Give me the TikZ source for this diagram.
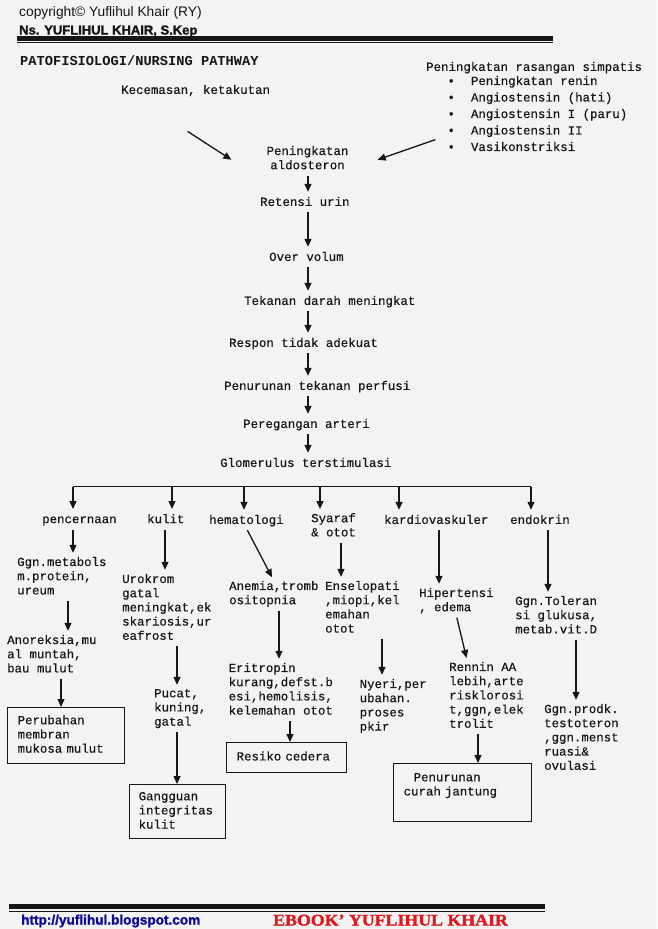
\documentclass[tikz,border=0pt]{standalone}
\usepackage{fontspec}
\usetikzlibrary{arrows.meta}
\setmainfont{Liberation Sans}
\newfontfamily\monof[FakeBold=0.4]{Liberation Mono}
\newfontfamily\monobf{Liberation Mono Bold}
\newfontfamily\heavyf{Liberation Sans}[BoldFeatures={FakeBold=1.6}]
\newfontfamily\ebookf{Liberation Serif}[BoldFeatures={FakeBold=1.8}, FakeStretch=1.1]
\newcommand{\lnstr}{\rule[-4.3pt]{0pt}{14.2pt}}
\newcommand{\bul}{\makebox[23.5pt][l]{\textbullet}}
\definecolor{paper}{RGB}{243,243,243}
\definecolor{ink}{RGB}{22,22,22}
\definecolor{ebookred}{RGB}{222,24,30}
\definecolor{linkblue}{RGB}{12,12,150}
\begin{document}
\begin{tikzpicture}[x=1pt,y=-1pt]
    \tikzset{
        txt/.style={font=\monof\fontsize{12.4}{14.2}\selectfont, text=ink, inner sep=0pt, align=left, anchor=north west,
            execute at begin node=\lnstr, execute at end node=\lnstr},
        mid/.style={txt, align=center, anchor=north},
        outcome/.style={txt, draw=ink, line width=1.3pt, inner ysep=0pt},
        arr/.style={-{Triangle[length=8pt,width=7pt]}, line width=1.3pt, draw=ink},
        link/.style={arr, shorten <=2pt, shorten >=4pt}
    }
    \fill[paper] (0,0) rectangle (657,929);
    \useasboundingbox (0,0) rectangle (657,929);

    \node[font=\fontsize{13.8}{16}\selectfont, text=ink, anchor=base west, inner sep=0pt] (copy) at (19,16) {copyright© Yuflihul Khair (RY)};
    \node[font=\heavyf\bfseries\fontsize{13}{15}\selectfont, text=ink, anchor=base west, inner sep=0pt] (author) at (19,34.5) {Ns. YUFLIHUL KHAIR, S.Kep};
    \draw[ink, line width=4.5pt] (17,38.3) -- (553,38.3);
    \draw[ink, line width=1pt] (17,42.6) -- (553,42.6);
    \node[font=\monobf\fontsize{13.7}{16}\selectfont, text=ink, anchor=base west, inner sep=0pt] (title) at (20,65) {PATOFISIOLOGI/NURSING PATHWAY};

    \node[txt] (kec) at (121,83.8) {Kecemasan, ketakutan};
    \node[txt] (simp) at (426,60.8) {Peningkatan rasangan simpatis};
    \node[txt, font=\monof\fontsize{12.4}{16.5}\selectfont] (simplist) at (447.3,75.8)
        {\bul Peningkatan renin\\\bul Angiostensin (hati)\\\bul Angiostensin I (paru)\\\bul Angiostensin II\\\bul Vasikonstriksi};
    \node[mid] (aldo) at (307.5,145.8) {Peningkatan\\aldosteron};
    \node[txt] (ret) at (260,195.8) {Retensi urin};
    \node[txt] (over) at (269,250.8) {Over volum};
    \node[txt] (tek) at (244,294.8) {Tekanan darah meningkat};
    \node[txt] (resp) at (229,336.8) {Respon tidak adekuat};
    \node[txt] (perf) at (224,379.8) {Penurunan tekanan perfusi};
    \node[txt] (arteri) at (243,417.8) {Peregangan arteri};
    \node[txt] (glom) at (220,456.8) {Glomerulus terstimulasi};

    \draw[arr] ([xshift=-8pt,yshift=-33pt]kec.south) -- ([xshift=-35pt]aldo.west);
    \draw[arr] ([xshift=-12pt,yshift=-24pt]simplist.west) -- ([xshift=29pt]aldo.east);
    \coordinate (spine) at (308,0);
    \foreach \a/\b in {aldo/ret, ret/over, over/tek, tek/resp, resp/perf, perf/arteri, arteri/glom}
        \draw[link] (\a.south -| spine) -- (\b.north -| spine);

    \node[txt] (cerna) at (42,513) {pencernaan};
    \node[txt] (kulit) at (147,513) {kulit};
    \node[txt] (hema) at (209,513.8) {hematologi};
    \node[txt] (saraf) at (311,513) {Syaraf\\\& otot};
    \node[txt] (kardio) at (384,513.8) {kardiovaskuler};
    \node[txt] (endo) at (510,513.8) {endokrin};

    \coordinate (b1) at (73,486.5);
    \coordinate (b2) at (172,486.5);
    \coordinate (b3) at (244,486.5);
    \coordinate (b4) at (320,486.5);
    \coordinate (b5) at (399,486.5);
    \coordinate (b6) at (531,486.5);
    \draw[ink, line width=1.3pt] (b1) -- (b6);
    \foreach \b/\n in {b1/cerna, b2/kulit, b3/hema, b4/saraf, b5/kardio, b6/endo}
        \draw[link, shorten <=0pt] (\b) -- (\b |- \n.north);

    \node[txt] (metab) at (17,556.8) {Ggn.metabols\\m.protein,\\ureum};
    \node[txt] (anor) at (7,634.8) {Anoreksia,mu\\al muntah,\\bau mulut};
    \node[outcome, inner xsep=10pt, text width=97pt, minimum height=56pt] (mukosa) at (7,707) {Perubahan\\membran\\mukosa mulut};
    \node[txt] (uro) at (122,573.8) {Urokrom\\gatal\\meningkat,ek\\skariosis,ur\\eafrost};
    \node[txt] (pucat) at (154,688.8) {Pucat,\\kuning,\\gatal};
    \node[outcome, inner xsep=9pt, text width=78pt, minimum height=54pt] (integ) at (129,784) {Gangguan\\integritas\\kulit};
    \node[txt] (anemia) at (229,580.8) {Anemia,tromb\\ositopnia};
    \node[txt] (eritro) at (228.5,662.8) {Eritropin\\kurang,defst.b\\esi,hemolisis,\\kelemahan otot};
    \node[outcome, inner xsep=10pt, text width=100pt, minimum height=30pt] (cedera) at (226,742) {Resiko cedera};
    \node[txt] (ensel) at (325,580.8) {Enselopati\\,miopi,kel\\emahan\\otot};
    \node[txt] (nyeri) at (359.5,678.8) {Nyeri,per\\ubahan.\\proses\\pkir};
    \node[txt] (hiper) at (419,587.8) {Hipertensi\\, edema};
    \node[txt] (rennin) at (449,661.8) {Rennin AA\\lebih,arte\\risklorosi\\t,ggn,elek\\trolit};
    \node[outcome, inner xsep=10pt, text width=118pt, minimum height=58pt] (curah) at (393,763) {\hspace*{10pt}Penurunan\\curah jantung\\ };
    \node[txt] (toleran) at (515,595.8) {Ggn.Toleran\\si glukusa,\\metab.vit.D};
    \node[txt] (prodk) at (544,703.8) {Ggn.prodk.\\testoteron\\,ggn.menst\\ruasi\&\\ovulasi};

    \coordinate (pen1) at (68,0);
    \coordinate (pen2) at (61,0);
    \coordinate (kul1) at (165,0);
    \coordinate (kul2) at (177,0);
    \coordinate (hem1) at (279,0);
    \coordinate (hem2) at (290,0);
    \coordinate (syr1) at (341,0);
    \coordinate (syr2) at (382,0);
    \coordinate (kar1) at (439,0);
    \coordinate (kar2) at (478,0);
    \coordinate (endo1) at (548,0);
    \coordinate (endo2) at (576,0);

    \draw[link] (cerna.south -| b1) -- (metab.north -| b1);
    \draw[link] (metab.south -| pen1) -- (anor.north -| pen1);
    \draw[link, shorten >=0pt] (anor.south -| pen2) -- (mukosa.north -| pen2);
    \draw[link] (kulit.south -| kul1) -- (uro.north -| kul1);
    \draw[link] (uro.south -| kul2) -- (pucat.north -| kul2);
    \draw[link, shorten >=0pt] (pucat.south -| kul2) -- (integ.north -| kul2);
    \draw[link] (hema.south) -- (anemia.north);
    \draw[link] (anemia.south -| hem1) -- (eritro.north -| hem1);
    \draw[link, shorten >=0pt] (eritro.south -| hem2) -- (cedera.north -| hem2);
    \draw[link] (saraf.south -| syr1) -- (ensel.north -| syr1);
    \draw[link] (ensel.south -| syr2) -- (nyeri.north -| syr2);
    \draw[link] (kardio.south -| kar1) -- (hiper.north -| kar1);
    \draw[link] (hiper.south) -- ([xshift=-19pt]rennin.north);
    \draw[link, shorten >=0pt] (rennin.south -| kar2) -- (curah.north -| kar2);
    \draw[link] (endo.south -| endo1) -- (toleran.north -| endo1);
    \draw[link] (toleran.south -| endo2) -- (prodk.north -| endo2);

    \draw[ink, line width=5pt] (9,906.5) -- (545,906.5);
    \draw[ink, line width=1.2pt] (9,911.6) -- (545,911.6);
    \node[font=\heavyf\bfseries\fontsize{13.6}{16}\selectfont, text=linkblue, anchor=base west, inner sep=0pt] (url) at (21,924.5) {\underline{http://yuflihul.blogspot.com}};
    \node[font=\ebookf\bfseries\fontsize{16.2}{18}\selectfont, text=ebookred, anchor=base west, inner sep=0pt] (ebook) at (273,925.5) {EBOOK’ YUFLIHUL KHAIR};
\end{tikzpicture}
\end{document}
